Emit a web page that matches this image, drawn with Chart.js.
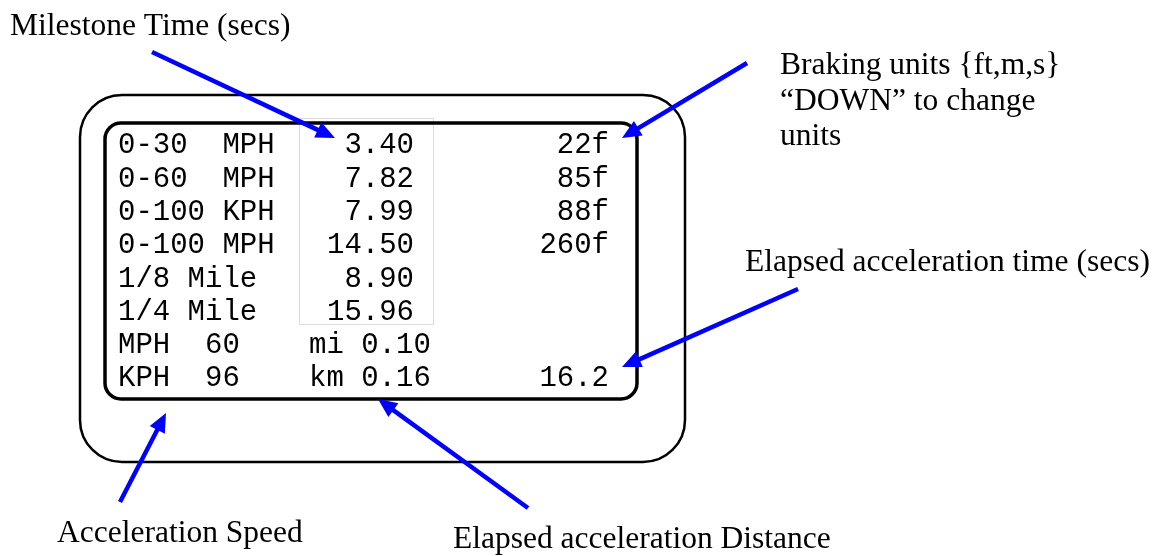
<!DOCTYPE html>
<html><head><meta charset="utf-8">
<script src="https://cdn.jsdelivr.net/npm/chart.js@4/dist/chart.umd.min.js"></script>
<style>html,body{margin:0;padding:0;background:#fff}canvas{display:block}</style>
</head><body>
<canvas id="c" width="1168" height="556"></canvas>
<script>
// ---- data ----
const milestoneLabels = ['0-30  MPH', '0-60  MPH', '0-100 KPH', '0-100 MPH', '1/8 Mile', '1/4 Mile'];
const milestoneTimes = [3.40, 7.82, 7.99, 14.50, 8.90, 15.96];
const brakingFeet = [22, 85, 88, 260];
const brakingUnit = 'f';
const speedUnits = ['MPH', 'KPH'];
const speedValues = [60, 96];
const distUnits = ['mi', 'km'];
const distValues = [0.10, 0.16];
const elapsedTime = 16.2;
const calloutTexts = [
  ['Milestone Time (secs)'],
  ['Braking units {ft,m,s}', '\u201CDOWN\u201D to change', 'units'],
  ['Elapsed acceleration time (secs)'],
  ['Acceleration Speed'],
  ['Elapsed acceleration Distance']
];

// ---- layout (positions / styles) ----
const W = 1168, H = 556;
const OUTER = {x: 80, y: 95, w: 605, h: 367, r: 42, lw: 2.5};
const INNER = {x: 105, y: 123, w: 532, h: 276, r: 16, lw: 3.5};
const GRAY = {x: 299, y: 118, w: 134, h: 206};
const ROW0 = 153.3, ROWSTEP = 33.3;
const COL_LABEL = 118, COL_TIME_R = 414, COL_RIGHT_R = 609, COL_DIST = 309;
const MONO = '29px "Liberation Mono", "Courier New", monospace';
const SERIF = '31.5px "Liberation Serif", "Times New Roman", serif';
const calloutPos = [
  {x: 10, y: 35, lh: 35},
  {x: 780, y: 74, lh: 35.5},
  {x: 745, y: 271, lh: 35},
  {x: 57, y: 542, lh: 35},
  {x: 453, y: 548, lh: 35}
];
const arrowGeom = [
  {from: [152, 52], to: [335, 138]},
  {from: [747, 63], to: [622, 138]},
  {from: [798, 289], to: [622, 367]},
  {from: [120, 502], to: [166, 413]},
  {from: [528, 508], to: [378, 399]}
];
const HEAD_LEN = 19, HEAD_HALF = 8.5, BLUE = '#0000ff';

function shaft(a) {
  const dx = a.to[0] - a.from[0], dy = a.to[1] - a.from[1];
  const L = Math.hypot(dx, dy);
  const k = (L - HEAD_LEN * 0.7) / L;
  return [{x: a.from[0], y: a.from[1]}, {x: a.from[0] + dx * k, y: a.from[1] + dy * k}];
}

function rr(ctx, x, y, w, h, r) {
  ctx.beginPath();
  ctx.moveTo(x + r, y);
  ctx.lineTo(x + w - r, y);
  ctx.arcTo(x + w, y, x + w, y + r, r);
  ctx.lineTo(x + w, y + h - r);
  ctx.arcTo(x + w, y + h, x + w - r, y + h, r);
  ctx.lineTo(x + r, y + h);
  ctx.arcTo(x, y + h, x, y + h - r, r);
  ctx.lineTo(x, y + r);
  ctx.arcTo(x, y, x + r, y, r);
  ctx.closePath();
}

const diagramPlugin = {
  id: 'diagram',
  beforeDatasetsDraw(chart) {
    const ctx = chart.ctx;
    const sx = chart.scales.x, sy = chart.scales.y;
    const px = v => sx.getPixelForValue(v), py = v => sy.getPixelForValue(v);
    const box = (b) => {
      const x0 = px(b.x), y0 = py(b.y), x1 = px(b.x + b.w), y1 = py(b.y + b.h);
      return [x0, y0, x1 - x0, y1 - y0];
    };
    ctx.save();
    // gray milestone box
    ctx.strokeStyle = '#dcdcdc'; ctx.lineWidth = 1;
    let g = box(GRAY); ctx.strokeRect(g[0] + 0.5, g[1] + 0.5, g[2], g[3]);
    // outer and inner rounded rects
    ctx.strokeStyle = '#000';
    let o = box(OUTER); ctx.lineWidth = OUTER.lw; rr(ctx, o[0], o[1], o[2], o[3], OUTER.r); ctx.stroke();
    let n = box(INNER); ctx.lineWidth = INNER.lw; rr(ctx, n[0], n[1], n[2], n[3], INNER.r); ctx.stroke();

    // monospace display text
    ctx.fillStyle = '#000';
    ctx.font = MONO; ctx.textBaseline = 'alphabetic';
    const rowY = i => py(ROW0 + i * ROWSTEP);
    milestoneLabels.forEach((t, i) => {
      ctx.textAlign = 'left'; ctx.fillText(t, px(COL_LABEL), rowY(i));
      ctx.textAlign = 'right'; ctx.fillText(milestoneTimes[i].toFixed(2), px(COL_TIME_R), rowY(i));
    });
    brakingFeet.forEach((v, i) => {
      ctx.textAlign = 'right'; ctx.fillText(v + brakingUnit, px(COL_RIGHT_R), rowY(i));
    });
    speedUnits.forEach((u, i) => {
      const r = milestoneLabels.length + i;
      ctx.textAlign = 'left';
      ctx.fillText(u + '  ' + speedValues[i], px(COL_LABEL), rowY(r));
      ctx.fillText(distUnits[i] + ' ' + distValues[i].toFixed(2), px(COL_DIST), rowY(r));
    });
    ctx.textAlign = 'right';
    ctx.fillText(elapsedTime.toFixed(1), px(COL_RIGHT_R), rowY(milestoneLabels.length + 1));

    // callout texts
    ctx.font = SERIF; ctx.textAlign = 'left';
    calloutTexts.forEach((lines, k) => {
      const p = calloutPos[k];
      lines.forEach((ln, j) => ctx.fillText(ln, px(p.x), py(p.y + j * p.lh)));
    });
    ctx.restore();
  },
  afterDatasetsDraw(chart) {
    const ctx = chart.ctx;
    const sx = chart.scales.x, sy = chart.scales.y;
    ctx.save();
    ctx.fillStyle = BLUE;
    arrowGeom.forEach(a => {
      const tx = sx.getPixelForValue(a.to[0]), ty = sy.getPixelForValue(a.to[1]);
      const fx = sx.getPixelForValue(a.from[0]), fy = sy.getPixelForValue(a.from[1]);
      const ang = Math.atan2(ty - fy, tx - fx);
      const bx = tx - HEAD_LEN * Math.cos(ang), by = ty - HEAD_LEN * Math.sin(ang);
      ctx.beginPath();
      ctx.moveTo(tx, ty);
      ctx.lineTo(bx + HEAD_HALF * Math.sin(ang), by - HEAD_HALF * Math.cos(ang));
      ctx.lineTo(bx - HEAD_HALF * Math.sin(ang), by + HEAD_HALF * Math.cos(ang));
      ctx.closePath();
      ctx.fill();
    });
    ctx.restore();
  }
};

new Chart(document.getElementById('c'), {
  type: 'scatter',
  data: {
    datasets: arrowGeom.map((a, i) => ({
      label: 'arrow' + i,
      data: shaft(a),
      showLine: true,
      borderColor: BLUE,
      borderWidth: 4.5,
      pointRadius: 0,
      fill: false,
      tension: 0
    }))
  },
  options: {
    responsive: false,
    animation: false,
    layout: {padding: 0},
    plugins: {legend: {display: false}, tooltip: {enabled: false}},
    scales: {
      x: {type: 'linear', min: 0, max: W, display: false},
      y: {type: 'linear', min: 0, max: H, reverse: true, display: false}
    }
  },
  plugins: [diagramPlugin]
});
</script>
</body></html>
